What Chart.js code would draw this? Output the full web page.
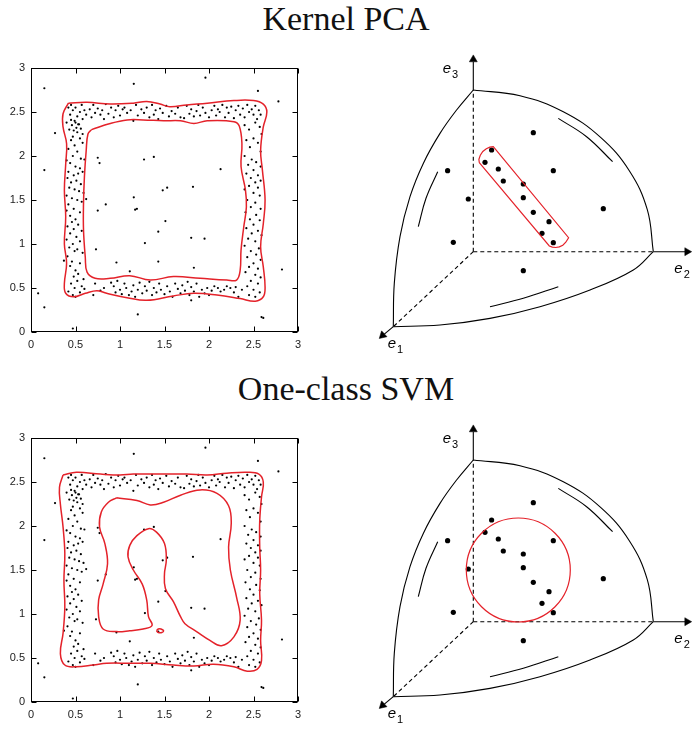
<!DOCTYPE html>
<html><head><meta charset="utf-8">
<script src="https://cdn.jsdelivr.net/npm/chart.js@4.4.1/dist/chart.umd.min.js"></script>
<style>
body{margin:0;background:#fff;}
#wrap{position:relative;width:692px;height:729px;overflow:hidden;background:#fff;}
.title{position:absolute;left:0;width:692px;text-align:center;font-family:"Liberation Serif","Times New Roman",serif;font-size:34px;line-height:34px;color:#111;}
canvas{position:absolute;}
</style></head><body>
<div id="wrap">
<div class="title" style="top:2px">Kernel PCA</div>
<div class="title" style="top:372px">One-class SVM</div>
<canvas id="c1" width="320" height="300" style="left:0;top:55px;width:320px;height:300px"></canvas>
<canvas id="c2" width="352" height="310" style="left:340px;top:50px;width:352px;height:310px"></canvas>
<canvas id="c3" width="320" height="300" style="left:0;top:425px;width:320px;height:300px"></canvas>
<canvas id="c4" width="352" height="310" style="left:340px;top:420px;width:352px;height:310px"></canvas>
</div>
<script>
// ---------- left panels: sample points ----------
const TICKS = [0, 0.5, 1, 1.5, 2, 2.5, 3];

const outliers = [[0.15,2.77],[1.155,2.82],[1.96,2.89],[2.55,2.74],[2.78,2.62],[0.27,2.26],[0.15,1.84],[0.75,1.98],[0.77,1.92],[1.27,1.96],[1.38,1.99],[2.13,1.85],[0.62,1.51],[1.155,1.53],[0.84,1.45],[1.19,1.40],[1.17,1.39],[0.75,1.38],[1.48,1.61],[1.53,1.64],[1.82,1.65],[1.51,1.26],[1.43,1.14],[1.28,1.01],[1.80,1.07],[1.95,1.06],[0.73,0.94],[0.96,0.79],[1.43,0.80],[1.83,0.73],[1.11,0.69],[2.82,0.71],[0.08,0.44],[0.15,0.28],[1.20,0.20],[2.59,0.17],[2.61,0.16],[0.47,0.04],[0.37,0.81],[1.80,0.36]];

const bandTop = [[0.42,2.55],[0.44,2.47],[0.45,2.58],[0.47,2.52],[0.49,2.40],[0.50,2.55],[0.52,2.45],[0.53,2.36],[0.55,2.50],[0.57,2.58],[0.58,2.42],[0.60,2.52],[0.62,2.47],[0.66,2.53],[0.68,2.44],[0.70,2.58],[0.72,2.49],[0.75,2.54],[0.78,2.47],[0.80,2.52],[0.82,2.42],[0.84,2.59],[0.87,2.48],[0.90,2.55],[0.93,2.44],[0.95,2.52],[0.98,2.57],[1.00,2.46],[1.03,2.53],[1.05,2.55],[1.08,2.49],[1.12,2.52],[1.15,2.40],[1.18,2.58],[1.20,2.46],[1.24,2.53],[1.27,2.49],[1.30,2.55],[1.33,2.44],[1.36,2.58],[1.38,2.47],[1.40,2.52],[1.43,2.42],[1.45,2.54],[1.48,2.49],[1.52,2.57],[1.55,2.45],[1.58,2.51],[1.62,2.48],[1.65,2.55],[1.68,2.44],[1.72,2.43],[1.75,2.57],[1.78,2.48],[1.80,2.53],[1.83,2.45],[1.86,2.51],[1.88,2.58],[1.90,2.46],[1.93,2.55],[1.96,2.49],[2.00,2.44],[2.03,2.52],[2.06,2.57],[2.08,2.46],[2.10,2.53],[2.12,2.50],[2.15,2.58],[2.18,2.44],[2.20,2.55],[2.22,2.49],[2.25,2.56],[2.28,2.43],[2.30,2.52],[2.33,2.57],[2.35,2.47],[2.38,2.54],[2.40,2.44],[2.43,2.58],[2.45,2.50],[2.48,2.53],[2.50,2.47],[2.52,2.57],[2.54,2.42],[2.56,2.52],[2.58,2.47]];

const bandLeft = [[0.40,2.38],[0.43,2.30],[0.46,2.35],[0.48,2.29],[0.50,2.38],[0.51,2.32],[0.54,2.36],[0.56,2.31],[0.45,2.41],[0.52,2.27],[0.47,2.22],[0.55,2.20],[0.45,2.18],[0.58,2.25],[0.49,2.12],[0.58,2.15],[0.42,2.08],[0.52,2.05],[0.47,2.00],[0.56,1.97],[0.60,1.96],[0.40,1.95],[0.44,1.92],[0.50,1.88],[0.55,1.86],[0.42,1.82],[0.48,1.78],[0.53,1.80],[0.58,1.82],[0.41,1.75],[0.45,1.70],[0.51,1.72],[0.56,1.68],[0.43,1.64],[0.49,1.62],[0.54,1.60],[0.59,1.58],[0.40,1.55],[0.46,1.52],[0.52,1.50],[0.57,1.48],[0.42,1.45],[0.48,1.40],[0.40,1.38],[0.55,1.36],[0.44,1.32],[0.50,1.28],[0.46,1.25],[0.53,1.22],[0.41,1.20],[0.48,1.17],[0.57,1.15],[0.44,1.12],[0.51,1.08],[0.40,1.05],[0.55,1.03],[0.47,1.00],[0.43,0.96],[0.52,0.94],[0.49,0.92],[0.58,0.90],[0.41,0.86],[0.46,0.80],[0.55,0.78],[0.44,0.75],[0.50,0.70],[0.53,0.66],[0.48,0.63],[0.59,0.60]];

const bandBottom = [[0.42,0.46],[0.45,0.55],[0.47,0.42],[0.49,0.50],[0.50,0.40],[0.52,0.58],[0.55,0.45],[0.57,0.52],[0.60,0.49],[0.70,0.42],[0.72,0.55],[0.78,0.47],[0.82,0.50],[0.90,0.56],[0.93,0.52],[0.95,0.45],[0.97,0.58],[1.00,0.48],[1.02,0.43],[1.05,0.55],[1.07,0.50],[1.10,0.42],[1.13,0.46],[1.15,0.53],[1.17,0.40],[1.20,0.48],[1.22,0.56],[1.25,0.44],[1.28,0.52],[1.30,0.47],[1.33,0.57],[1.36,0.42],[1.38,0.50],[1.41,0.45],[1.44,0.55],[1.46,0.48],[1.50,0.43],[1.53,0.52],[1.56,0.46],[1.59,0.40],[1.62,0.55],[1.65,0.49],[1.68,0.44],[1.70,0.53],[1.73,0.47],[1.76,0.57],[1.78,0.42],[1.80,0.51],[1.83,0.46],[1.86,0.55],[1.89,0.40],[1.92,0.48],[1.95,0.44],[1.98,0.50],[2.00,0.42],[2.03,0.47],[2.06,0.52],[2.10,0.50],[2.13,0.46],[2.17,0.48],[2.20,0.52],[2.24,0.50],[2.28,0.45],[2.30,0.51],[2.33,0.40],[2.37,0.48]];

const bandRight = [[2.40,2.35],[2.45,2.30],[2.52,2.38],[2.57,2.33],[2.59,2.25],[2.50,2.20],[2.42,2.18],[2.55,2.15],[2.46,2.10],[2.58,2.05],[2.40,2.00],[2.48,1.96],[2.53,1.93],[2.44,1.90],[2.58,1.88],[2.50,1.84],[2.42,1.80],[2.55,1.78],[2.47,1.75],[2.52,1.70],[2.58,1.72],[2.45,1.66],[2.55,1.64],[2.40,1.62],[2.50,1.58],[2.57,1.55],[2.43,1.50],[2.52,1.47],[2.47,1.42],[2.58,1.40],[2.41,1.36],[2.53,1.33],[2.46,1.28],[2.57,1.27],[2.50,1.22],[2.42,1.18],[2.55,1.15],[2.48,1.12],[2.59,1.10],[2.44,1.06],[2.52,1.03],[2.40,0.98],[2.56,0.95],[2.47,0.92],[2.53,0.88],[2.43,0.85],[2.58,0.82],[2.50,0.78],[2.45,0.74],[2.55,0.72],[2.41,0.68],[2.52,0.65],[2.58,0.62],[2.47,0.58],[2.55,0.55],[2.43,0.52],[2.50,0.48],[2.57,0.45],[2.45,0.42],[2.52,0.40]];

// ---------- left panels: red level curves ----------
const pcaOuter = [[0.42,2.60],[0.63,2.61],[0.89,2.59],[1.15,2.60],[1.30,2.62],[1.45,2.59],[1.56,2.56],[1.75,2.58],[1.98,2.60],[2.28,2.63],[2.50,2.63],[2.61,2.59],[2.65,2.50],[2.61,2.33],[2.58,2.06],[2.60,1.84],[2.63,1.50],[2.61,1.23],[2.58,0.97],[2.61,0.74],[2.63,0.51],[2.61,0.40],[2.52,0.35],[2.35,0.38],[2.09,0.42],[1.83,0.44],[1.60,0.41],[1.30,0.36],[1.08,0.39],[0.85,0.44],[0.74,0.47],[0.61,0.44],[0.48,0.40],[0.39,0.44],[0.375,0.55],[0.40,0.78],[0.375,1.00],[0.39,1.31],[0.375,1.61],[0.39,1.91],[0.40,2.14],[0.36,2.33],[0.36,2.48],[0.42,2.60]];
const pcaInner = [[0.68,2.30],[0.89,2.37],[1.08,2.41],[1.26,2.41],[1.49,2.40],[1.68,2.40],[1.83,2.37],[1.98,2.40],[2.28,2.39],[2.34,2.34],[2.37,2.14],[2.36,1.88],[2.41,1.61],[2.42,1.42],[2.39,1.19],[2.36,0.93],[2.35,0.70],[2.31,0.59],[2.20,0.59],[1.90,0.61],[1.60,0.63],[1.34,0.59],[1.11,0.64],[0.89,0.61],[0.72,0.61],[0.63,0.68],[0.61,0.85],[0.59,1.16],[0.59,1.46],[0.60,1.76],[0.62,2.06],[0.64,2.25],[0.68,2.30]];
const svmOuter = [[0.36,2.58],[0.51,2.61],[0.78,2.59],[1.00,2.58],[1.15,2.59],[1.45,2.59],[1.75,2.59],[1.98,2.58],[2.20,2.60],[2.43,2.61],[2.56,2.59],[2.61,2.50],[2.59,2.33],[2.57,2.06],[2.57,1.76],[2.58,1.50],[2.57,1.23],[2.59,0.93],[2.58,0.70],[2.59,0.47],[2.54,0.37],[2.43,0.35],[2.28,0.40],[2.05,0.43],[1.83,0.41],[1.60,0.42],[1.34,0.44],[1.11,0.44],[0.85,0.44],[0.70,0.42],[0.51,0.40],[0.38,0.42],[0.33,0.55],[0.36,0.78],[0.38,1.08],[0.37,1.38],[0.38,1.69],[0.36,1.99],[0.33,2.25],[0.32,2.44],[0.36,2.58]];
const svmMiddle = [[0.96,2.32],[1.19,2.29],[1.34,2.24],[1.49,2.27],[1.68,2.35],[1.90,2.41],[2.09,2.37],[2.22,2.23],[2.25,2.03],[2.22,1.76],[2.24,1.50],[2.31,1.19],[2.35,0.93],[2.28,0.74],[2.14,0.64],[2.01,0.70],[1.86,0.80],[1.73,0.89],[1.68,0.97],[1.60,1.14],[1.51,1.29],[1.50,1.46],[1.52,1.61],[1.50,1.80],[1.41,1.93],[1.32,1.97],[1.19,1.89],[1.11,1.78],[1.09,1.65],[1.15,1.50],[1.25,1.34],[1.30,1.16],[1.32,0.97],[1.36,0.87],[1.26,0.83],[1.11,0.81],[0.96,0.80],[0.81,0.83],[0.76,0.97],[0.76,1.16],[0.81,1.34],[0.86,1.57],[0.83,1.80],[0.77,1.99],[0.79,2.16],[0.87,2.27],[0.96,2.32]];
const svmIsland = [[1.41,0.81],[1.43,0.83],[1.46,0.83],[1.49,0.81],[1.47,0.79],[1.43,0.79],[1.41,0.81]];

// ---------- right panels: feature-space sketch (coords relative to axis origin) ----------
const featurePts = [[60,119],[18.3,101.7],[11.7,89.4],[25,82.7],[80,81],[-25.7,81],[30,70.7],[50,67.7],[50,54],[-5,52.7],[60,39.4],[130,43],[75.7,30],[68.7,18.4],[-20,9.4],[80,9],[50,-19]];
const arcLeft = [[0,161.7],[-16.7,141.7],[-33.3,118.3],[-50,88.3],[-63.3,55],[-73.3,15],[-79,-31.7],[-80,-75]];
const arcRight = [[0,161.7],[46.7,156],[90,140],[127.3,114.3],[156,81],[174,42],[180,0]];
const arcBottom = [[-80,-75],[-33.3,-73.3],[16.7,-66.7],[66.7,-55],[116.7,-38.3],[160,-18.3],[180,0]];
const innerArcs = [
  [[85,133.3],[113.3,115],[139.3,90]],
  [[-35.6,80],[-47.3,53.4],[-55,25]],
  [[16.7,-55],[50,-46.6],[85,-35]]
];
const axesDashed = [[[0,0],[0,161.7]], [[0,0],[180,0]], [[0,0],[-80,-75]]];
const axesSolid = [[[0,161.7],[0,190]], [[180,0],[212,0]], [[-80,-75],[-89,-82.5]]];
const arrowHeads = [[0,192.2],[213.8,0],[-90.7,-83.65]];
const arrowRot = [0, 90, 227];
const axisNames = [{x:-30.6,y:178.7,sub:'3'},{x:201,y:-21.3,sub:'2'},{x:-85.6,y:-96.3,sub:'1'}];
const pcaCapsule = [[6,89],[76,5.7],[79,4.6],[82.5,4.2],[86,4.8],[89.5,6.5],[92.5,9.5],[95.3,14],[20,105],[16.5,104.5],[13,103],[9.5,100.3],[7,96.5],[5.6,92.5],[6,89]];
const svmBallCenter = [[45,51.7]];

// ---------- helpers ----------
const RED = '#e4222a';
const xy = a => a.map(([x, y]) => ({x, y}));
const allSamples = [].concat(outliers, bandTop, bandLeft, bandBottom, bandRight);

const framePlugin = {
  id: 'frame',
  afterDraw(chart) {
    const {ctx, chartArea: a, scales} = chart;
    ctx.save();
    ctx.strokeStyle = '#000';
    ctx.lineWidth = 1;
    const L = Math.round(a.left) + 0.5, T = Math.round(a.top) + 0.5;
    const R = Math.round(a.right) - 0.5, B = Math.round(a.bottom) - 0.5;
    ctx.strokeRect(L, T, R - L, B - T);
    ctx.beginPath();
    TICKS.forEach(v => {
      const px = Math.round(scales.x.getPixelForValue(v)) + 0.5;
      ctx.moveTo(px, B); ctx.lineTo(px, B - 5);
      ctx.moveTo(px, T); ctx.lineTo(px, T + 5);
      const py = Math.round(scales.y.getPixelForValue(v)) + 0.5;
      ctx.moveTo(L, py); ctx.lineTo(L + 5, py);
      ctx.moveTo(R, py); ctx.lineTo(R - 5, py);
    });
    ctx.stroke();
    ctx.restore();
  }
};

const axisNamePlugin = {
  id: 'axisNames',
  afterDraw(chart) {
    const {ctx, scales: {x, y}} = chart;
    ctx.save();
    ctx.fillStyle = '#000';
    ctx.textBaseline = 'alphabetic';
    axisNames.forEach(n => {
      const px = x.getPixelForValue(n.x), py = y.getPixelForValue(n.y);
      ctx.font = 'italic 15px "Liberation Sans", Arial, sans-serif';
      ctx.fillText('e', px, py);
      const w = ctx.measureText('e').width;
      ctx.font = '11px "Liberation Sans", Arial, sans-serif';
      ctx.fillText(n.sub, px + w + 1, py + 4.5);
    });
    ctx.restore();
  }
};

const tickFont = {family: '"Liberation Sans", Arial, sans-serif', size: 11};
function axis(isX) {
  return {
    type: 'linear', min: 0, max: 3,
    afterBuildTicks: s => { s.ticks = TICKS.map(v => ({value: v})); },
    ticks: {callback: v => String(v), font: tickFont, color: '#222', padding: 6, maxRotation: 0, autoSkip: false},
    grid: {display: false, drawTicks: false},
    border: {display: false},
    afterFit: s => { if (isX) s.height = 23; else s.width = 31; }
  };
}

function curve(arr, w) {
  return {data: xy(arr), showLine: true, borderColor: RED, borderWidth: w || 1.5, pointRadius: 0, tension: 0.4, fill: false};
}

function makeSamplePanel(id, curves) {
  new Chart(document.getElementById(id), {
    type: 'scatter',
    data: {datasets: curves.map(c => curve(c)).concat([{
      data: xy(allSamples), pointRadius: 1.1, pointBackgroundColor: '#000', pointBorderWidth: 0, showLine: false
    }])},
    options: {
      responsive: false, animation: false, events: [],
      layout: {autoPadding: false, padding: {top: 13, right: 22, bottom: 0, left: 0}},
      plugins: {legend: {display: false}, tooltip: {enabled: false}},
      scales: {x: axis(true), y: axis(false)}
    },
    plugins: [framePlugin]
  });
}

function blackLine(arr, dash, tension) {
  return {data: xy(arr), showLine: true, borderColor: '#000', borderWidth: 1.1, borderDash: dash || [], pointRadius: 0, tension: tension || 0, fill: false};
}

function makeSketch(id, redSets) {
  const ds = [];
  redSets.forEach(r => ds.push(r));
  ds.push({data: xy(featurePts), pointRadius: 2.6, pointBackgroundColor: '#000', pointBorderWidth: 0, showLine: false});
  ds.push({data: xy(arrowHeads), pointStyle: 'triangle', pointRadius: 4.6, pointRotation: arrowRot,
           pointBackgroundColor: '#000', pointBorderColor: '#000', pointBorderWidth: 0.5, showLine: false});
  [arcLeft, arcRight, arcBottom].forEach(a => ds.push(blackLine(a, null, 0.4)));
  innerArcs.forEach(a => ds.push(blackLine(a, null, 0.4)));
  axesDashed.forEach(a => ds.push(blackLine(a, [4, 3])));
  axesSolid.forEach(a => ds.push(blackLine(a)));
  new Chart(document.getElementById(id), {
    type: 'scatter',
    data: {datasets: ds},
    options: {
      responsive: false, animation: false, events: [],
      layout: {autoPadding: false, padding: 0},
      plugins: {legend: {display: false}, tooltip: {enabled: false}},
      scales: {
        x: {type: 'linear', display: false, min: -133.3, max: 218.7},
        y: {type: 'linear', display: false, min: -108.3, max: 201.7}
      }
    },
    plugins: [axisNamePlugin]
  });
}

makeSamplePanel('c1', [pcaOuter, pcaInner]);
makeSamplePanel('c3', [svmOuter, svmMiddle, svmIsland]);
makeSketch('c2', [{data: xy(pcaCapsule), showLine: true, borderColor: RED, borderWidth: 1.2, pointRadius: 0, tension: 0, fill: false}]);
makeSketch('c4', [{data: xy(svmBallCenter), pointRadius: 52, pointBackgroundColor: 'rgba(0,0,0,0)', pointBorderColor: RED, pointBorderWidth: 1.2, showLine: false, clip: false}]);
</script>
</body></html>
